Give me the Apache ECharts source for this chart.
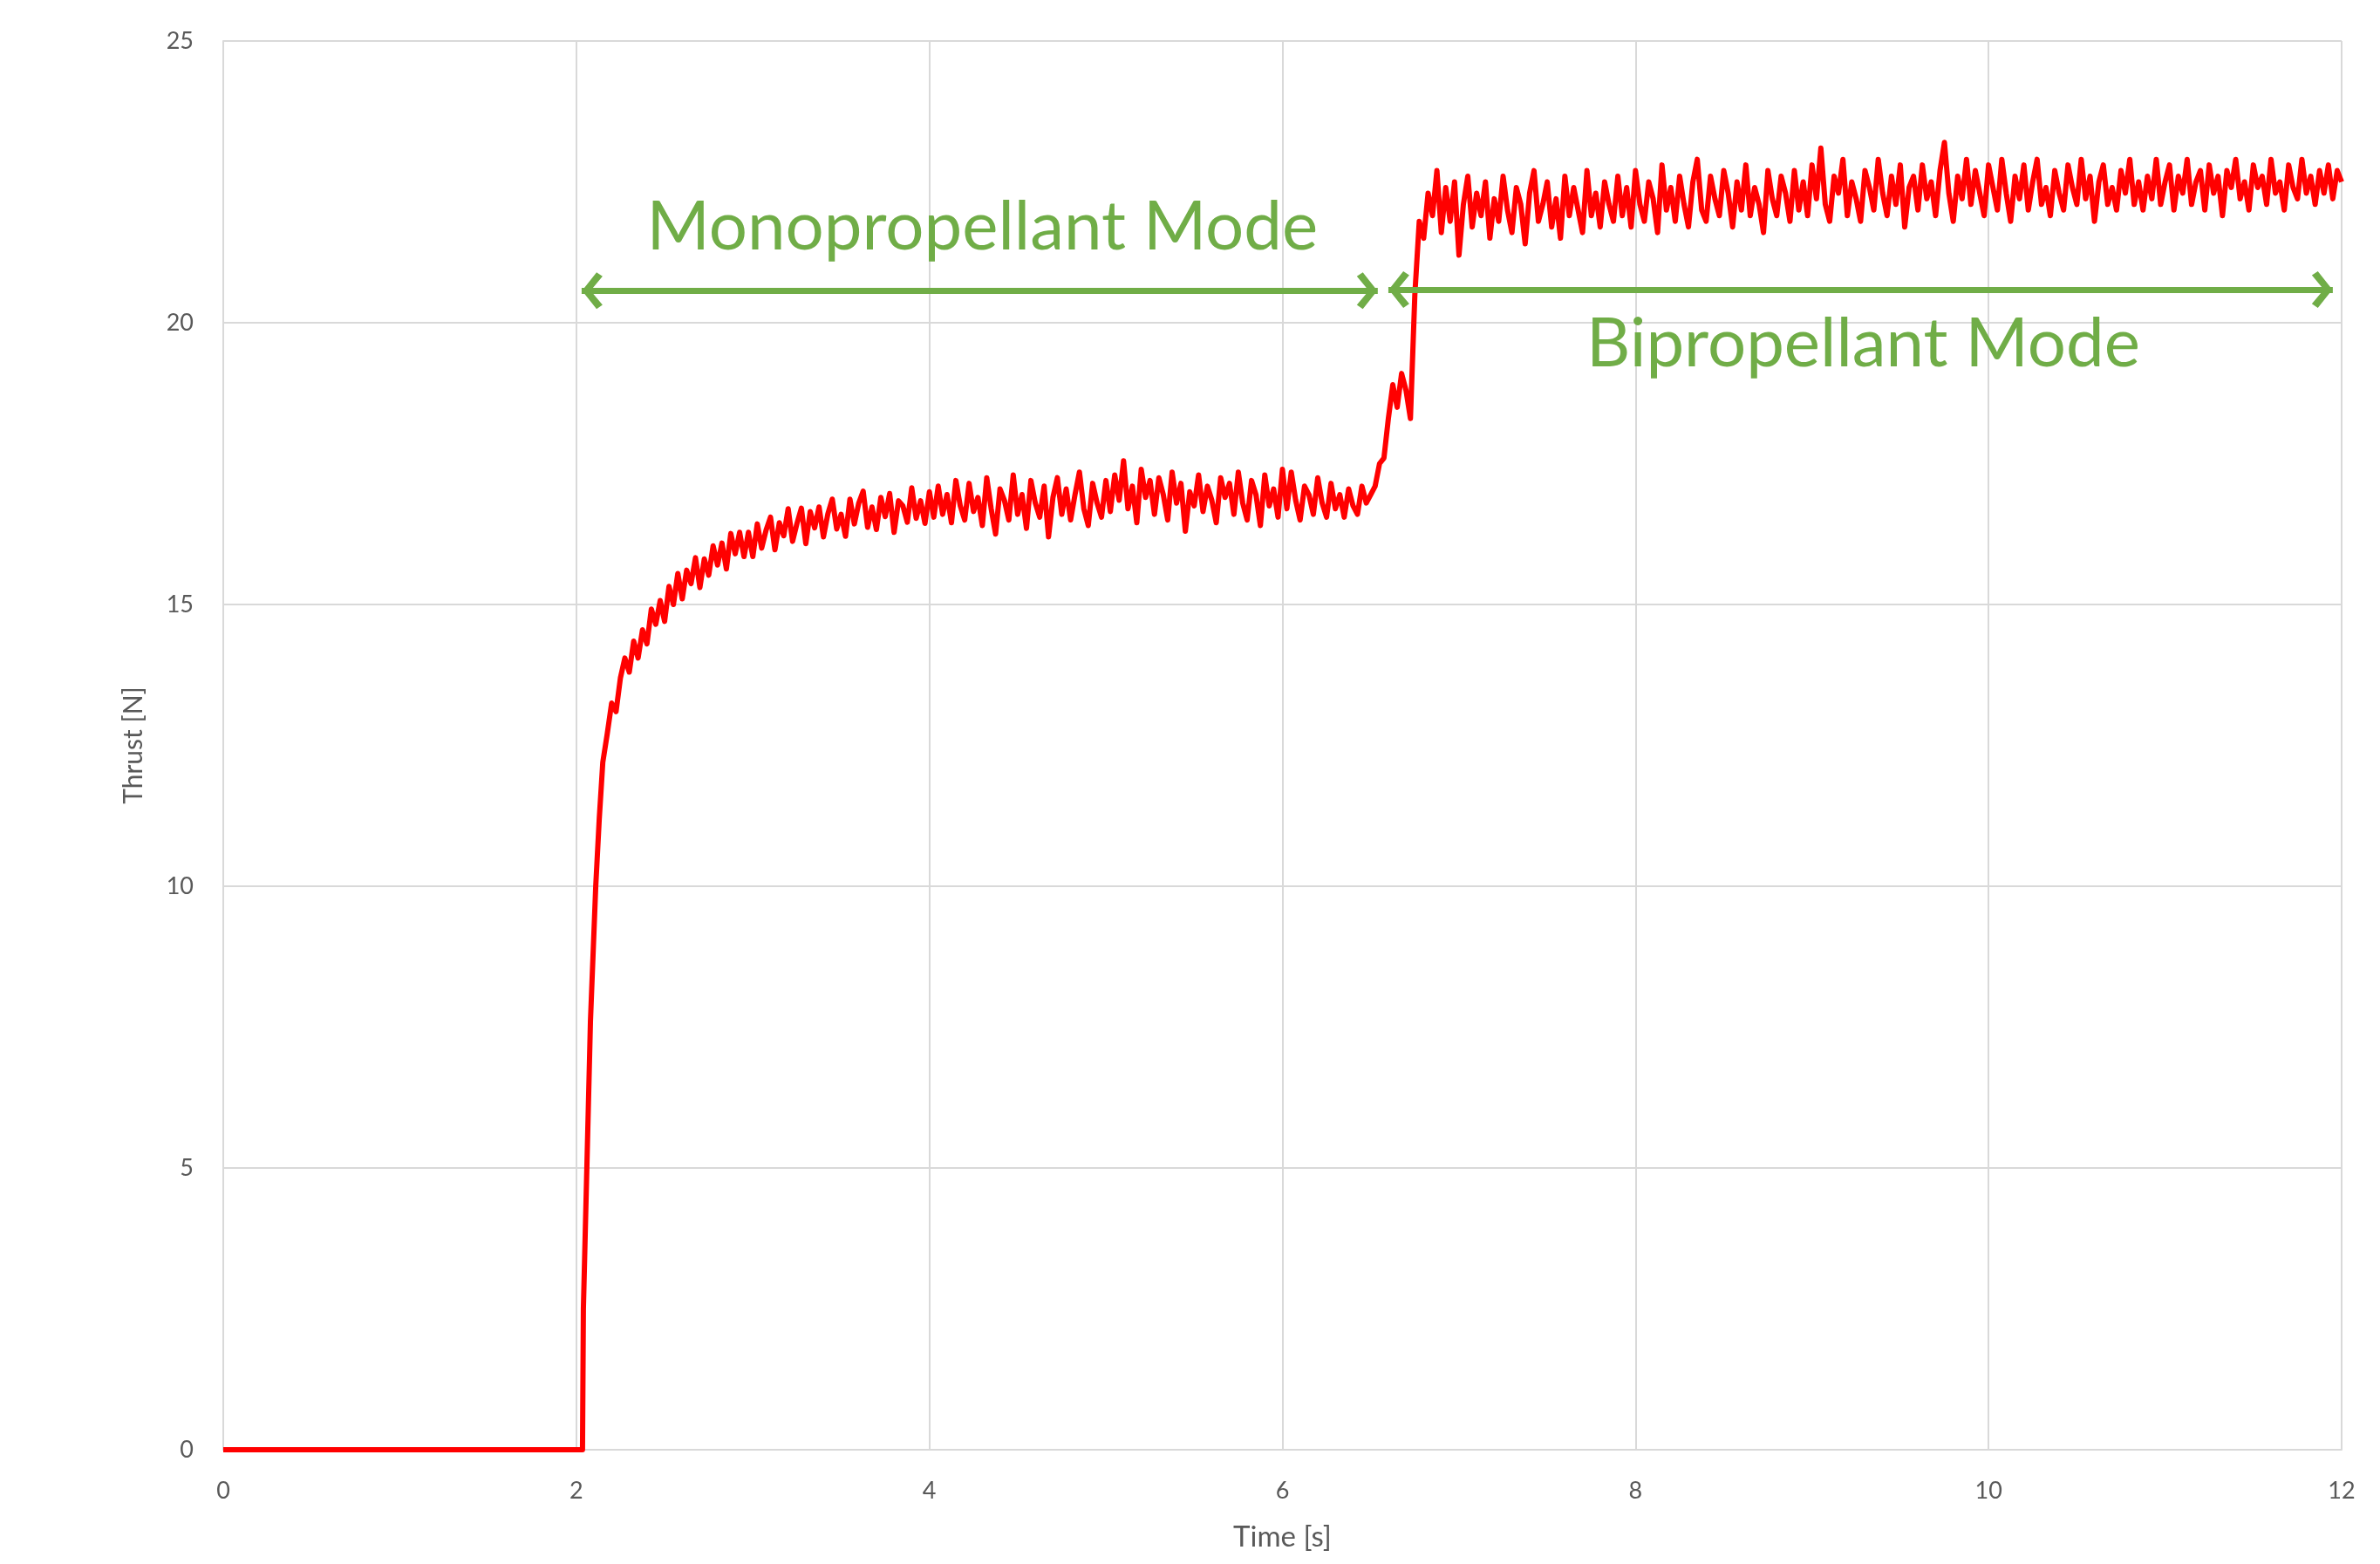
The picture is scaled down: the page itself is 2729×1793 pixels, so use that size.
<!DOCTYPE html>
<html>
<head>
<meta charset="utf-8">
<title>Thrust</title>
<script src="https://cdn.jsdelivr.net/npm/echarts@6/dist/echarts.min.js"></script>
<style>
  html, body { margin: 0; padding: 0; background: #fff; }
  #main { width: 2729px; height: 1793px; }
</style>
</head>
<body>
<div id="main"></div>
<script>
// ignition transient, read point by point
var ignitionTime = [0, 2.035, 2.04, 2.08, 2.11, 2.13, 2.15, 2.175];
var ignitionThrust = [0, 0, 2.5, 7.6, 10.0, 11.2, 12.2, 12.7];

// logger samples from 2.2 s on, one every 25 ms
var sampleStart = 2.2;
var sampleStep = 0.025;

// 2.2 - 3.0 s
var rampThrust = [
  13.25, 13.1, 13.7, 14.05, 13.8, 14.35, 14.05, 14.55, 14.3, 14.92,
  14.65, 15.07, 14.7, 15.32, 15.0, 15.55, 15.1, 15.61, 15.37, 15.83,
  15.3, 15.81, 15.52, 16.04, 15.7, 16.09, 15.63, 16.26, 15.9, 16.28,
  15.85, 16.28, 15.85
];
// 3.025 - 6.5 s, monopropellant
var monoThrust = [
  16.43, 16.0, 16.32, 16.55, 15.97, 16.45, 16.22, 16.7, 16.12, 16.44,
  16.71, 16.08, 16.65, 16.36, 16.73, 16.2, 16.61, 16.87, 16.34, 16.6,
  16.21, 16.87, 16.43, 16.8, 17.01, 16.37, 16.73, 16.33, 16.9, 16.56,
  16.97, 16.28, 16.84, 16.75, 16.46, 17.07, 16.53, 16.84, 16.44, 17.0,
  16.55, 17.1, 16.6, 16.95, 16.45, 17.2, 16.75, 16.5, 17.15, 16.65,
  16.9, 16.4, 17.25, 16.7, 16.25, 17.05, 16.85, 16.5, 17.3, 16.6,
  16.95, 16.35, 17.2, 16.8, 16.55, 17.1, 16.2, 16.9, 17.25, 16.6,
  17.05, 16.5, 16.95, 17.35, 16.7, 16.4, 17.15, 16.8, 16.55, 17.2,
  16.65, 17.3, 16.85, 17.55, 16.7, 17.1, 16.45, 17.4, 16.9, 17.2,
  16.6, 17.25, 16.95, 16.5, 17.35, 16.8, 17.15, 16.3, 17.0, 16.75,
  17.3, 16.65, 17.1, 16.85, 16.45, 17.25, 16.9, 17.15, 16.6, 17.35,
  16.8, 16.5, 17.2, 16.95, 16.4, 17.3, 16.75, 17.05, 16.55, 17.4,
  16.7, 17.35, 16.85, 16.5, 17.1, 16.95, 16.6, 17.25, 16.8, 16.55,
  17.15, 16.7, 16.95, 16.55, 17.05, 16.75, 16.6, 17.1, 16.8, 16.95
];
// 6.525 - 6.875 s, switch to bipropellant
var switchThrust = [
  17.1, 17.5, 17.6, 18.3, 18.9, 18.5, 19.1, 18.8, 18.3, 20.5,
  21.8, 21.5, 22.3, 21.9, 22.7
];
// 6.9 - 12.0 s, bipropellant
var biThrust = [
  21.6, 22.4, 21.8, 22.5, 21.2, 22.1, 22.6, 21.7, 22.3, 21.9,
  22.5, 21.5, 22.2, 21.8, 22.6, 22.0, 21.6, 22.4, 22.1, 21.4,
  22.3, 22.7, 21.8, 22.1, 22.5, 21.7, 22.2, 21.5, 22.6, 21.9,
  22.4, 22.0, 21.6, 22.7, 21.9, 22.3, 21.7, 22.5, 22.1, 21.8,
  22.6, 21.9, 22.4, 21.7, 22.7, 22.1, 21.8, 22.5, 22.2, 21.6,
  22.8, 22.0, 22.4, 21.8, 22.6, 22.1, 21.7, 22.5, 22.9, 22.0,
  21.8, 22.6, 22.2, 21.9, 22.7, 22.3, 21.7, 22.5, 22.0, 22.8,
  21.9, 22.4, 22.1, 21.6, 22.7, 22.2, 21.9, 22.6, 22.3, 21.8,
  22.7, 22.0, 22.5, 21.9, 22.8, 22.2, 23.1, 22.1, 21.8, 22.6,
  22.3, 22.9, 21.9, 22.5, 22.2, 21.8, 22.7, 22.4, 22.0, 22.9,
  22.3, 21.9, 22.6, 22.1, 22.8, 21.7, 22.4, 22.6, 22.0, 22.8,
  22.2, 22.5, 21.9, 22.7, 23.2, 22.3, 21.8, 22.6, 22.2, 22.9,
  22.1, 22.7, 22.3, 21.9, 22.8, 22.4, 22.0, 22.9, 22.3, 21.8,
  22.6, 22.2, 22.8, 22.0, 22.5, 22.9, 22.1, 22.4, 21.9, 22.7,
  22.3, 22.0, 22.8, 22.4, 22.1, 22.9, 22.2, 22.6, 21.8, 22.5,
  22.8, 22.1, 22.4, 22.0, 22.7, 22.3, 22.9, 22.1, 22.5, 22.0,
  22.6, 22.2, 22.9, 22.1, 22.5, 22.8, 22.0, 22.6, 22.3, 22.9,
  22.1, 22.5, 22.7, 22.0, 22.8, 22.3, 22.6, 21.9, 22.7, 22.4,
  22.9, 22.2, 22.5, 22.0, 22.8, 22.4, 22.6, 22.1, 22.9, 22.3,
  22.5, 22.0, 22.8, 22.4, 22.2, 22.9, 22.3, 22.6, 22.1, 22.7,
  22.3, 22.8, 22.2, 22.7, 22.5
];

var timeTicks = [0, 2, 4, 6, 8, 10, 12];
var thrustTicks = [0, 5, 10, 15, 20, 25];

// annotations: [label, x, y] and arrows [x0, x1, y]
var modeLabels = [
  ['Monopropellant Mode', 4.30, 21.69],
  ['Bipropellant Mode', 9.29, 19.61]
];
var modeArrows = [
  [2.03, 6.54, 20.57],
  [6.60, 11.95, 20.59]
];

var chartDom = document.getElementById('main');
var myChart = echarts.init(chartDom);

var seriesData = [];
for (var i = 0; i < ignitionTime.length; i++) {
  seriesData.push([ignitionTime[i], ignitionThrust[i]]);
}
var samples = rampThrust.concat(monoThrust, switchThrust, biThrust);
for (var j = 0; j < samples.length; j++) {
  var t = Math.round((sampleStart + j * sampleStep) * 1000) / 1000;
  seriesData.push([t, samples[j]]);
}

var green = '#70AD47';
// open chevron, tip in the middle of the box so it sits on the line end
var chevron = 'path://M50 0 L50.01 0 L50 0.01 Z M50 50 L100 84 L89 98 L50 70 L11 98 L0 84 Z';

var option = {
  animation: false,
  textStyle: { fontFamily: 'Lato' },
  grid: { left: 256, right: 44, top: 47, bottom: 131 },
  xAxis: {
    type: 'value',
    min: timeTicks[0],
    max: timeTicks[timeTicks.length - 1],
    interval: 2,
    name: 'Time [s]',
    nameLocation: 'middle',
    nameGap: 84,
    nameTextStyle: { fontSize: 33, color: '#595959', fontFamily: 'Lato' },
    axisLine: { show: true, lineStyle: { color: '#d9d9d9', width: 2 } },
    axisTick: { show: false },
    axisLabel: { fontSize: 27, color: '#595959', margin: 34 },
    splitLine: { show: true, lineStyle: { color: '#d9d9d9', width: 2 } }
  },
  yAxis: {
    type: 'value',
    min: thrustTicks[0],
    max: thrustTicks[thrustTicks.length - 1],
    interval: 5,
    name: 'Thrust [N]',
    nameLocation: 'middle',
    nameGap: 88,
    nameRotate: 90,
    nameTextStyle: { fontSize: 30, color: '#595959', fontFamily: 'Lato' },
    axisLine: { show: true, lineStyle: { color: '#d9d9d9', width: 2 } },
    axisTick: { show: false },
    axisLabel: { fontSize: 27, color: '#595959', margin: 34 },
    splitLine: { show: true, lineStyle: { color: '#d9d9d9', width: 2 } }
  },
  series: [
    {
      name: 'Thrust',
      type: 'line',
      data: seriesData,
      showSymbol: false,
      symbol: 'none',
      lineStyle: { color: '#ff0000', width: 6, join: 'round' },
      itemStyle: { color: '#ff0000' },
      z: 3,
      markLine: {
        silent: true,
        symbol: [chevron, chevron],
        symbolSize: [42, 48],
        label: { show: false },
        lineStyle: { color: green, width: 7, type: 'solid' },
        itemStyle: { color: green },
        data: modeArrows.map(function (a) {
          return [{ coord: [a[0], a[2]] }, { coord: [a[1], a[2]] }];
        })
      },
      markPoint: {
        silent: true,
        symbol: 'circle',
        symbolSize: 1,
        itemStyle: { color: 'rgba(0,0,0,0)' },
        label: {
          show: true,
          position: 'inside',
          formatter: '{b}',
          fontSize: 78,
          color: green,
          fontFamily: 'Lato'
        },
        data: modeLabels.map(function (m) {
          return { name: m[0], coord: [m[1], m[2]] };
        })
      }
    }
  ]
};

option && myChart.setOption(option);
</script>
</body>
</html>
